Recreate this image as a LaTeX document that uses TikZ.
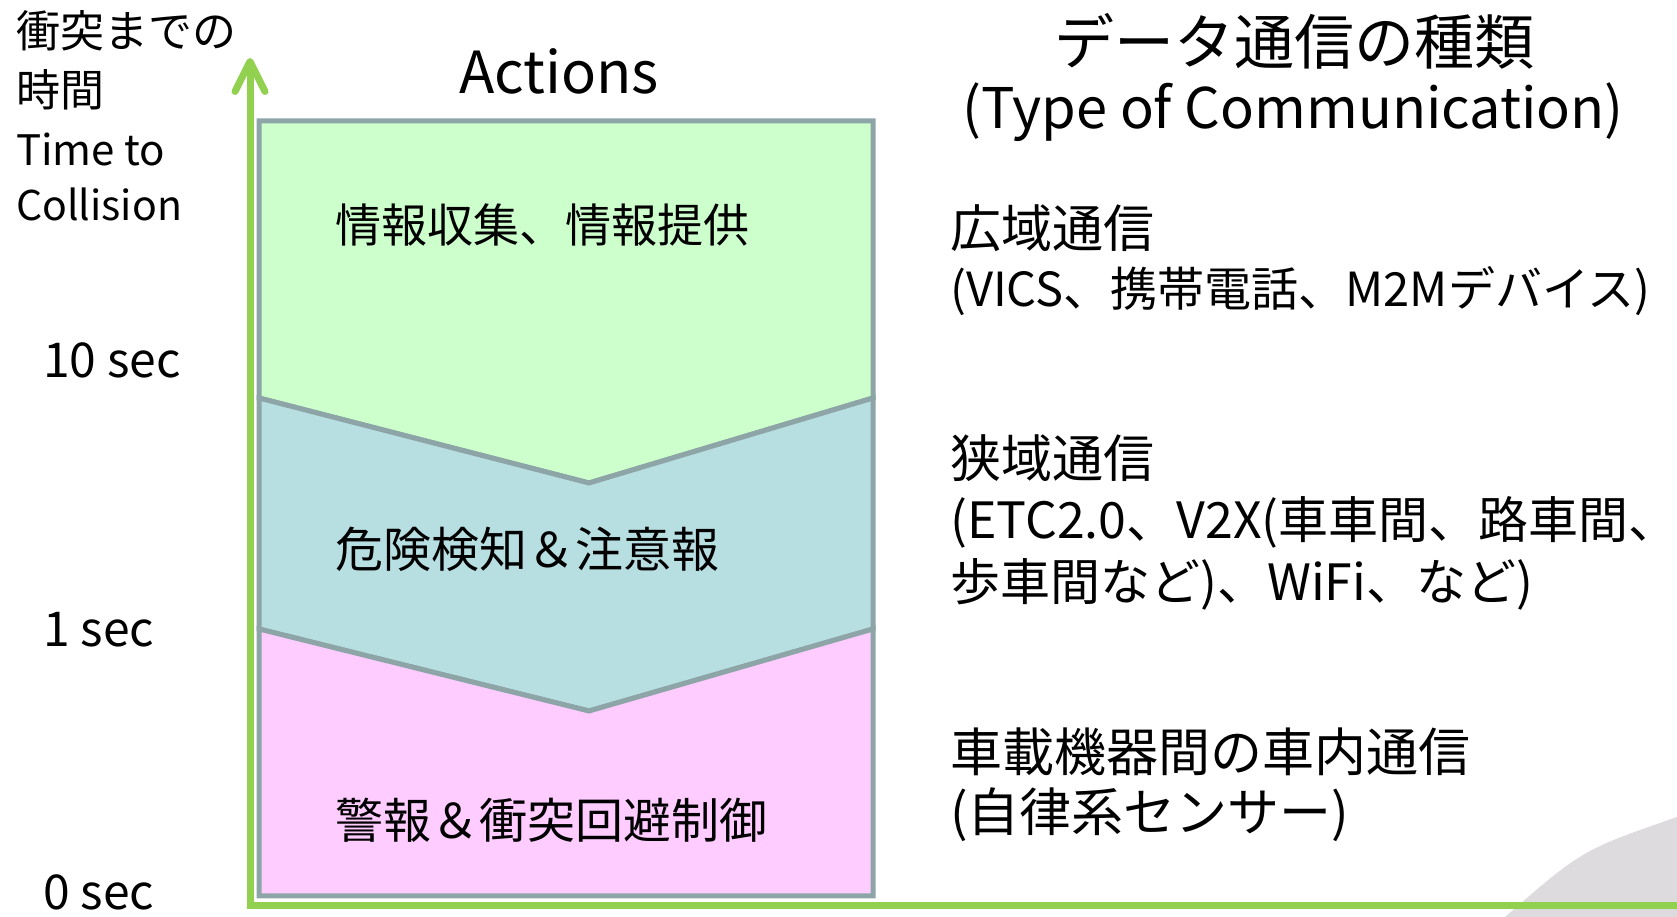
\documentclass[tikz,border=0pt]{standalone}
\usepackage{fontspec}
\setmainfont{Noto Sans CJK JP}
\usepackage{tikz}
\usetikzlibrary{arrows.meta,positioning}
\definecolor{axisgreen}{HTML}{92D050}
\definecolor{zoneedge}{HTML}{8DA5A7}
\definecolor{infofill}{HTML}{CCFFCC}
\definecolor{warnfill}{HTML}{B7DEE1}
\definecolor{ctrlfill}{HTML}{FFCCFF}
\definecolor{swooshgray}{HTML}{DDDBDE}
\newcommand{\px}[1]{\fontsize{#1}{#1}\selectfont}

\begin{document}
\begin{tikzpicture}[x=1pt,y=1pt,
  zone/.style={draw=zoneedge,line width=5pt,line join=miter},
  axisline/.style={draw=axisgreen,line width=7pt,line join=miter},
  lbl/.style={inner sep=0pt,anchor=west},
  tick/.style={inner sep=0pt,anchor=base west}]
\useasboundingbox (0,0) rectangle (1677,917);
% grey swoosh in the corner
\fill[swooshgray] (1505,0) .. controls (1582,67) .. (1677,100) -- (1677,0) -- cycle;
% action zones
\filldraw[zone,fill=infofill] (259,796) -- (873,796) -- (873,519) -- (589,434) -- (259,519) -- cycle;
\filldraw[zone,fill=warnfill] (259,519) -- (589,434) -- (873,519) -- (873,288) -- (589,206) -- (259,288) -- cycle;
\filldraw[zone,fill=ctrlfill] (259,288) -- (589,206) -- (873,288) -- (873,21) -- (259,21) -- cycle;
% time axis
\coordinate (ytop) at (250,859);
\coordinate (origin) at (250,11);
\coordinate (xend) at (1677,11);
\draw[axisline,{Straight Barb[length=30pt,width=30pt,round]}-] (ytop) -- (origin) -- (xend);
% axis title
\node[tick] (ttc1) at (16,869) {\px{44}衝突までの};
\node[tick] (ttc2) at (16,810) {\px{44}時間};
\node[tick] (ttc3) at (16,751) {\px{42}Time to};
\node[tick] (ttc4) at (16,696) {\px{41}Collision};
\node[tick] (t10) at (43,539) {\px{48}10 sec};
\node[tick] (t1) at (43,270) {\px{48}1 sec};
\node[tick] (t0) at (43,7) {\px{48}0 sec};
% actions
\node[inner sep=0pt,anchor=base] (actions) at (559,823) {\px{58}Actions};
\node[lbl] (info) at (335,692) {\px{46}情報収集、情報提供};
\node[lbl] (warn) at (335,368) {\px{48}危険検知＆注意報};
\node[lbl] (ctrl) at (335,97) {\px{48}警報＆衝突回避制御};
% type of communication
\node[inner sep=0pt] (comhead) at (1294,876) {\px{60}データ通信の種類};
\node[inner sep=0pt] (comsub) at (1293,805) {\px{56}(Type of Communication)};
\node[lbl] (wide) at (950,689) {\px{51}広域通信};
\node[lbl] (wideex) at (950,626) {\px{47}(VICS、携帯電話、M2Mデバイス)};
\node[lbl] (narrow) at (950,459) {\px{51}狭域通信};
\node[lbl] (narrowex) at (950,395) {\px{50}(ETC2.0、V2X(車車間、路車間、};
\node[lbl] (narrowex2) at (950,333) {\px{50}歩車間など)、WiFi、など)};
\node[lbl] (invehicle) at (950,165) {\px{52}車載機器間の車内通信};
\node[lbl] (invehicleex) at (950,102) {\px{52}(自律系センサー)};
\end{tikzpicture}
\end{document}
